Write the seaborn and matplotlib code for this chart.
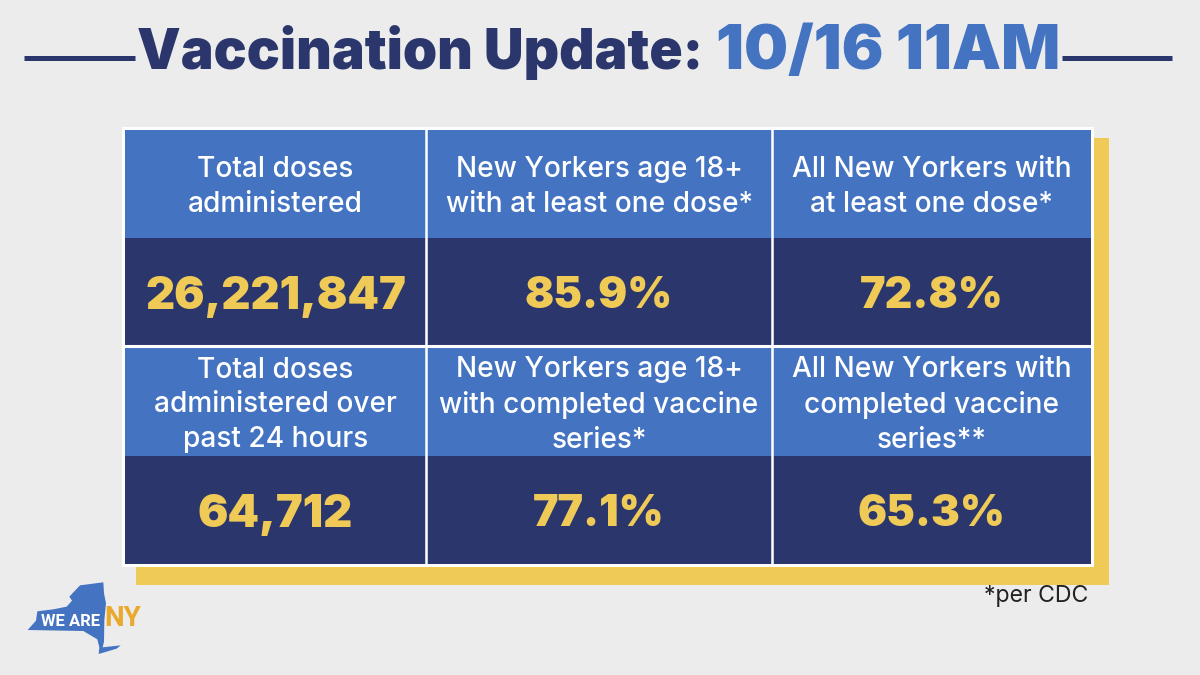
import matplotlib
matplotlib.use("Agg")
import matplotlib.pyplot as plt
from matplotlib.patches import Rectangle, Polygon
import seaborn as sns

sns.set_theme(style="white")
plt.rcParams['font.family'] = ['Inter', 'DejaVu Sans']

BG = "#ECECEC"; NAVY = "#2B376C"; BLUE = "#4373C1"; GOLD = "#F0CA57"; WHITE = "#FFFFFF"

title_left = "Vaccination Update:"
title_right = "10/16 11AM"
headers = [
    ["Total doses\nadministered", "New Yorkers age 18+\nwith at least one dose*", "All New Yorkers with\nat least one dose*"],
    ["Total doses\nadministered over\npast 24 hours", "New Yorkers age 18+\nwith completed vaccine\nseries*", "All New Yorkers with\ncompleted vaccine\nseries**"],
]
values = [
    ["26,221,847", "85.9%", "72.8%"],
    ["64,712", "77.1%", "65.3%"],
]
footnote = "*per CDC"

col_edges = [125, 426, 772, 1091]
row_edges = [130, 238, 346, 456, 564]

fig = plt.figure(figsize=(12, 6.75), dpi=100, facecolor=BG)
ax = fig.add_axes([0, 0, 1, 1])
ax.set_xlim(0, 1200); ax.set_ylim(675, 0); ax.axis("off")

# shadow and white frame
ax.add_patch(Rectangle((136, 138), 973, 447, fc=GOLD, ec="none", zorder=1))
ax.add_patch(Rectangle((122, 127), 972, 440, fc=WHITE, ec="none", zorder=2))

for r in range(2):
    for c in range(3):
        x0, x1 = col_edges[c], col_edges[c + 1]
        y0, y1, y2 = row_edges[2 * r], row_edges[2 * r + 1], row_edges[2 * r + 2]
        ax.add_patch(Rectangle((x0, y0), x1 - x0, y1 - y0, fc=BLUE, ec="none", zorder=3))
        ax.add_patch(Rectangle((x0, y1), x1 - x0, y2 - y1, fc=NAVY, ec="none", zorder=3))
        cx = (x0 + x1) / 2
        ax.text(cx, (y0 + y1) / 2 + 3 + r, headers[r][c], color=WHITE, ha="center", va="center",
                fontsize=20.2, fontweight="medium", linespacing=1.375, zorder=5)
        size = 31 if values[r][c].endswith("%") else 32.5
        ax.text(cx, (y1 + y2) / 2 + 5, values[r][c], color=GOLD, ha="center", va="center",
                fontsize=size, fontweight="black", zorder=5)

# white cell dividers
for x in col_edges[1:-1]:
    ax.plot([x, x], [128, 566], color=WHITE, lw=1.8, zorder=4, solid_capstyle="butt")
ax.plot([124, 1092], [346, 346], color=WHITE, lw=2.2, zorder=4, solid_capstyle="butt")

# title
ax.text(137, 69.5, title_left, color=NAVY, ha="left", va="baseline", fontsize=39.6, fontweight="black")
ax.text(1060, 69.5, title_right, color=BLUE, ha="right", va="baseline", fontsize=44.6, fontweight="black")
ax.plot([24, 135], [57.5, 57.5], color=NAVY, lw=3.6, solid_capstyle="butt")
ax.plot([1062, 1172], [57.5, 57.5], color=NAVY, lw=3.6, solid_capstyle="butt")

ax.text(1088, 596, footnote, color="#222222", ha="right", va="center", fontsize=16.6)

# logo
outline = [(83,180),(108,152),(112,124),(160,118),(200,110),(216,92),(208,80),(240,46),(310,37),(312,70),
           (318,100),(313,150),(312,215),(308,232),(362,226),(350,236),(296,252),(298,232),(292,208),(250,183)]
ax.add_patch(Polygon([(x / 3, 570 + y / 3) for x, y in outline], fc=BLUE, ec="none"))
ax.text(71, 621, "WE ARE", color=WHITE, ha="center", va="center", fontsize=12, fontweight="bold", family="Roboto")
ax.text(123, 618.5, "NY", color="#E9A92C", ha="center", va="center", fontsize=20, fontweight="bold", family="Roboto")

fig.savefig("out.png", dpi=100, facecolor=BG)
